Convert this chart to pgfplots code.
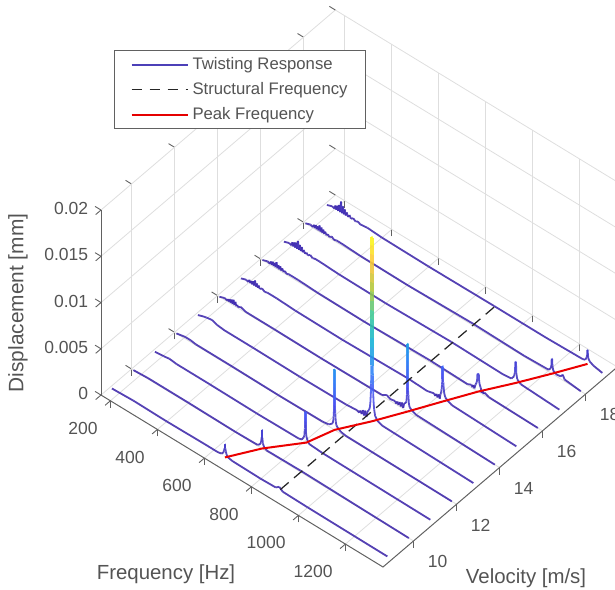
\documentclass[border=0pt]{standalone}
\usepackage{fontspec}
\setmainfont{Liberation Sans}
\usepackage{pgfplots}
\pgfplotsset{compat=1.18}
\definecolor{txt}{gray}{0.33}
\definecolor{axc}{gray}{0.38}
\definecolor{twistc}{rgb}{0.30,0.25,0.72}
\newcommand{\fs}{\fontsize{17.5}{20}\selectfont}
\newcommand{\fl}{\fontsize{16.7}{19}\selectfont}
\newcommand{\fa}{\fontsize{20.4}{23}\selectfont}
\pgfplotsset{resp/.style={mesh,point meta=z,line width=1.8pt,forget plot,opacity=0.88}}
\begin{document}
\begin{tikzpicture}[x=1pt,y=1pt]
\path[use as bounding box] (0,0) rectangle (615,589);
\begin{axis}[
  at={(101pt,22pt)},anchor=south west,
  x={(0.235pt,-0.1433pt)},y={(21.5pt,18.35pt)},z={(0pt,9250pt)},
  xmin=160,xmax=1360,ymin=8.58,ymax=19.48,zmin=0,zmax=0.02,
  clip=false,
  axis line style={draw=none},
  grid=major,
  grid style={draw=black!13,line width=0.8pt},
  xtick={200,400,600,800,1000,1200},
  xticklabels={200,400,600,800,1000,1200},
  ytick={10,12,14,16,18},
  yticklabels={10,12,14,16,18},
  ztick={0,0.005,0.01,0.015,0.02},
  zticklabels={0,0.005,0.01,0.015,0.02},
  scaled z ticks=false,
  tick align=outside,
  tick pos=left,
  major tick length=7pt,
  tick style={draw=axc,line width=0.9pt},
  tick label style={font=\fs,text=txt},
  xticklabel style={anchor=east,xshift=-4pt,yshift=-23pt},
  yticklabel style={anchor=center,xshift=18pt,yshift=-17pt},
  zticklabel style={anchor=east,xshift=-4pt,yshift=6pt},
  colormap={parula}{rgb=(0.2422,0.1504,0.6603) rgb=(0.2810,0.3228,0.9579) rgb=(0.1786,0.5289,0.9682) rgb=(0.0689,0.6948,0.8394) rgb=(0.2161,0.7843,0.5923) rgb=(0.6720,0.7793,0.2227) rgb=(0.9970,0.7659,0.2199) rgb=(0.9769,0.9839,0.0805)},
  point meta min=0,point meta max=0.0199,
  legend style={at={(0.0252,0.928)},anchor=north west,draw=axc,line width=1pt,
    font=\fl,text=txt,inner xsep=16pt,inner ysep=5pt,row sep=7pt,fill=white,
    cells={anchor=west},nodes={text height=12pt,text depth=2pt}},
  legend image code/.code={\path (58pt,0pt);\draw[#1] (0pt,0pt)--(56pt,0pt);},
  legend cell align=left,
]
\addlegendimage{draw=twistc,solid,line width=1.8pt}
\addlegendentry{Twisting Response}
\addlegendimage{draw=black!85,line width=1.2pt,dash pattern=on 10pt off 8pt}
\addlegendentry{Structural Frequency}
\addlegendimage{draw=red!90!black,line width=2pt}
\addlegendentry{Peak Frequency}

\draw[draw=axc,line width=1pt] (axis cs:160,8.58,0)--(axis cs:1360,8.58,0)--(axis cs:1360,19.48,0);
\draw[draw=axc,line width=1pt] (axis cs:160,8.58,0)--(axis cs:160,8.58,0.02);

% V=19
\addplot3[resp] coordinates {(168,19,0)(190,19,0.0002)(200,19,0.0001)(204,19,0.0005)(208,19,0.0001)(212,19,0.0006)(216,19,0.0001)(220,19,0.0008)(224,19,0.0001)(228,19,0.0013)(232,19,0.0001)(236,19,0.0009)(240,19,0.0001)(244,19,0.0007)(248,19,0.0001)(252,19,0.0005)(258,19,0.0001)(264,19,0.0004)(270,19,0.0001)(280,19,0.0003)(290,19,0.0001)(300,19,0.00025)(310,19,0.0001)(340,19,0.0002)(400,19,0.0001)(600,19,0.00005)(880,19,0.0001)(1100,19,0.0001)(1257,19,0.0002)(1267,19,0.0003)(1273,19,0.0006)(1275.5,19,0.0010)(1276,19,0.0015)(1278,19,0.0015)(1278.5,19,0.0010)(1281,19,0.0006)(1287,19,0.0004)(1302,19,0.0002)(1340,19,0)};
% V=18
\addplot3[resp] coordinates {(168,18,0)(190,18,0.0002)(200,18,0.0001)(204,18,0.0004)(208,18,0.0001)(212,18,0.0005)(216,18,0.0001)(220,18,0.0005)(224,18,0.0001)(228,18,0.0007)(232,18,0.0001)(236,18,0.0006)(240,18,0.0001)(244,18,0.0005)(248,18,0.0001)(252,18,0.0004)(258,18,0.0001)(264,18,0.0003)(270,18,0.0001)(280,18,0.0003)(290,18,0.0001)(300,18,0.0002)(320,18,0.0002)(400,18,0.0001)(600,18,0.00005)(880,18,0.0002)(1100,18,0.0001)(1202,18,0.0002)(1212,18,0.0005)(1215,18,0.0009)(1216,18,0.0016)(1218,18,0.0016)(1219,18,0.0009)(1223,18,0.0004)(1237,18,0.0002)(1255,18,0.0003)(1263,18,0.0006)(1271,18,0.0002)(1340,18,0)};
% V=17
\addplot3[resp] coordinates {(168,17,0)(190,17,0.0002)(200,17,0.0001)(204,17,0.0005)(208,17,0.0001)(212,17,0.0006)(216,17,0.0001)(220,17,0.0007)(224,17,0.0001)(228,17,0.0010)(232,17,0.0001)(236,17,0.0007)(240,17,0.0001)(244,17,0.0006)(248,17,0.0001)(252,17,0.0004)(258,17,0.0001)(264,17,0.0003)(270,17,0.0001)(280,17,0.0003)(290,17,0.0001)(300,17,0.0002)(320,17,0.0002)(400,17,0.0001)(600,17,0.00005)(880,17,0.0002)(1100,17,0.0001)(1136,17,0.0002)(1147,17,0.0006)(1151,17,0.0011)(1153,17,0.0023)(1155.5,17,0.0023)(1157,17,0.0011)(1161,17,0.0005)(1176,17,0.0002)(1340,17,0)};
% V=16
\addplot3[resp] coordinates {(168,16,0)(190,16,0.0002)(200,16,0.0001)(204,16,0.0004)(208,16,0.0001)(212,16,0.0005)(216,16,0.0001)(220,16,0.0005)(224,16,0.0001)(228,16,0.0007)(232,16,0.0001)(236,16,0.0005)(240,16,0.0001)(244,16,0.0005)(248,16,0.0001)(252,16,0.0004)(258,16,0.0001)(264,16,0.0003)(270,16,0.0001)(280,16,0.0002)(320,16,0.0002)(400,16,0.0001)(600,16,0.00005)(880,16,0.0002)(1040,16,0.0001)(1058,16,0.0003)(1062,16,0.0001)(1066,16,0.0004)(1070,16,0.0001)(1075,16,0.0006)(1080,16,0.0009)(1082,16,0.0013)(1083,16,0.0019)(1089,16,0.0019)(1090,16,0.0013)(1092,16,0.0009)(1097,16,0.0006)(1101,16,0.0001)(1105,16,0.0004)(1109,16,0.0001)(1113,16,0.0003)(1132,16,0.0001)(1340,16,0)};
% V=15
\addplot3[resp] coordinates {(168,15,0)(190,15,0.0002)(200,15,0.0001)(204,15,0.0004)(208,15,0.0001)(212,15,0.0004)(216,15,0.0001)(220,15,0.0005)(224,15,0.0001)(228,15,0.0007)(232,15,0.0001)(236,15,0.0005)(240,15,0.0001)(244,15,0.0004)(248,15,0.0001)(258,15,0.0003)(270,15,0.0001)(280,15,0.0002)(320,15,0.0002)(400,15,0.0001)(600,15,0.00005)(880,15,0.0002)(960,15,0.0001)(990,15,0.0003)(995,15,0.0001)(1000,15,0.0004)(1005,15,0.0001)(1010,15,0.0005)(1014,15,0.0001)(1017,15,0.0006)(1020,15,0.0009)(1022,15,0.0012)(1023,15,0.0015)(1024,15,0.0018)(1024.5,15,0.0021)(1025,15,0.0024)(1025,15,0.0027)(1025,15,0.003)(1025,15,0.0033)(1025,15,0.0036)(1025,15,0.0038)(1029.5,15,0.0038)(1029.5,15,0.0036)(1029.5,15,0.0033)(1029.5,15,0.003)(1029.5,15,0.0027)(1029.5,15,0.0024)(1029.5,15,0.0021)(1030,15,0.0018)(1031,15,0.0015)(1032,15,0.0012)(1034,15,0.0009)(1038,15,0.0006)(1048,15,0.0004)(1066,15,0.0002)(1340,15,0)};
% V=14
\addplot3[resp] coordinates {(168,14,0)(190,14,0.0002)(200,14,0.0001)(204,14,0.0003)(208,14,0.0001)(212,14,0.0004)(216,14,0.0001)(220,14,0.0005)(224,14,0.0001)(228,14,0.0006)(232,14,0.0001)(236,14,0.0005)(240,14,0.0001)(244,14,0.0003)(248,14,0.0001)(258,14,0.0003)(280,14,0.0001)(400,14,0.0001)(600,14,0.00005)(860,14,0.0001)(880,14,0.0004)(895,14,0.0002)(915,14,0.0003)(920,14,0.0001)(925,14,0.0004)(930,14,0.0001)(935,14,0.0005)(940,14,0.0001)(945,14,0.0006)(950,14,0.0001)(955,14,0.0007)(961,14,0.0008)(964,14,0.0010)(965,14,0.0014)(966,14,0.0018)(966.5,14,0.0022)(966.5,14,0.0026)(966.5,14,0.003)(966.5,14,0.0034)(966.5,14,0.0038)(966.5,14,0.0042)(966.5,14,0.0046)(966.5,14,0.005)(966.5,14,0.0054)(966.5,14,0.0058)(966.5,14,0.0062)(966.5,14,0.0066)(966.5,14,0.0070)(966.5,14,0.0073)(971.5,14,0.0073)(971.5,14,0.0070)(971.5,14,0.0066)(971.5,14,0.0062)(971.5,14,0.0058)(971.5,14,0.0054)(971.5,14,0.005)(971.5,14,0.0046)(971.5,14,0.0042)(971.5,14,0.0038)(971.5,14,0.0034)(971.5,14,0.003)(971.5,14,0.0026)(971.5,14,0.0022)(972,14,0.0018)(973,14,0.0014)(974,14,0.0010)(977,14,0.0006)(987,14,0.0004)(1005,14,0.0002)(1340,14,0)};
% V=13
\addplot3[resp] coordinates {(168,13,0)(190,13,0.0002)(205,13,0.0003)(228,13,0.0004)(250,13,0.0002)(280,13,0.0001)(400,13,0.0001)(600,13,0.00005)(800,13,0.0001)(845,13,0.0002)(855,13,0.0001)(860,13,0.0004)(865,13,0.0001)(870,13,0.0006)(875,13,0.0001)(880,13,0.0007)(885,13,0.0001)(890,13,0.0008)(896,13,0.0010)(900,13,0.0014)(902,13,0.002)(904,13,0.003)(905,13,0.004)(905.5,13,0.005)(906,13,0.006)(906,13,0.007)(906,13,0.008)(906,13,0.009)(906,13,0.01)(906,13,0.011)(906,13,0.012)(906,13,0.013)(906,13,0.014)(906,13,0.015)(906,13,0.016)(906,13,0.017)(906,13,0.018)(906,13,0.019)(906,13,0.0199)(912,13,0.0199)(912,13,0.019)(912,13,0.018)(912,13,0.017)(912,13,0.016)(912,13,0.015)(912,13,0.014)(912,13,0.013)(912,13,0.012)(912,13,0.011)(912,13,0.01)(912,13,0.009)(912,13,0.008)(912,13,0.007)(912,13,0.006)(912.5,13,0.005)(913,13,0.004)(914,13,0.003)(916,13,0.002)(918,13,0.0014)(922,13,0.0008)(932,13,0.0004)(952,13,0.0002)(1340,13,0)};
% V=12
\addplot3[resp] coordinates {(168,12,0)(205,12,0.0002)(228,12,0.0002)(250,12,0.0001)(400,12,0.0001)(600,12,0.00005)(790,12,0.0001)(815,12,0.0002)(826,12,0.0004)(833,12,0.0006)(836,12,0.0010)(837,12,0.0014)(838,12,0.0018)(838.5,12,0.0022)(838.5,12,0.0026)(838.5,12,0.003)(838.5,12,0.0034)(838.5,12,0.0038)(838.5,12,0.0042)(838.5,12,0.0046)(838.5,12,0.005)(838.5,12,0.0054)(838.5,12,0.0058)(838.5,12,0.0062)(838.5,12,0.0065)(843.5,12,0.0065)(843.5,12,0.0062)(843.5,12,0.0058)(843.5,12,0.0054)(843.5,12,0.005)(843.5,12,0.0046)(843.5,12,0.0042)(843.5,12,0.0038)(843.5,12,0.0034)(843.5,12,0.003)(843.5,12,0.0026)(843.5,12,0.0022)(844,12,0.0018)(845,12,0.0014)(846,12,0.0010)(849,12,0.0006)(856,12,0.0004)(868,12,0.0002)(888,12,0.0001)(1340,12,0)};
% V=11
\addplot3[resp] coordinates {(168,11,0)(205,11,0.0001)(230,11,0.0002)(260,11,0.0001)(400,11,0.0001)(600,11,0.00005)(780,11,0.0001)(793,11,0.0002)(800,11,0.0005)(804,11,0.0008)(805,11,0.0012)(806,11,0.0016)(806,11,0.002)(806,11,0.0024)(806,11,0.0028)(806,11,0.0032)(806,11,0.0034)(810.5,11,0.0034)(810.5,11,0.0032)(810.5,11,0.0028)(810.5,11,0.0024)(810.5,11,0.002)(810.5,11,0.0016)(811,11,0.0012)(813,11,0.0008)(817,11,0.0005)(824,11,0.0002)(880,11,0.0001)(1340,11,0)};
% V=10
\addplot3[resp] coordinates {(168,10,0)(230,10,0.0001)(400,10,0.0001)(600,10,0.00005)(695,10,0.0001)(706,10,0.0003)(711,10,0.0006)(714,10,0.0012)(714,10,0.002)(716.5,10,0.002)(716.5,10,0.0012)(719,10,0.0006)(724,10,0.0003)(735,10,0.0001)(880,10,0.00015)(1340,10,0)};
% V=9
\addplot3[resp] coordinates {(168,9,0)(260,9,0.0001)(400,9,0.00005)(560,9,0.0001)(620,9,0.0001)(635,9,0.0002)(642,9,0.0004)(645,9,0.0007)(648,9,0.001)(648,9,0.0014)(650.5,9,0.0014)(650.5,9,0.001)(653,9,0.0007)(656,9,0.0004)(663,9,0.0002)(680,9,0.0001)(800,9,0.00005)(865,9,0.0001)(880,9,0.0004)(895,9,0.0001)(1000,9,0.00005)(1340,9,0)};

\addplot3[forget plot,no markers,color=black!85,line width=1.25pt,dash pattern=on 11pt off 7pt] coordinates {(880,9.05,0)(880,19.1,0)};
\addplot3[forget plot,no markers,color=red!92!black,line width=2pt] coordinates {(649,9,0)(715,10,0)(808,11.05,0)(841,12,0)(909,13,0)(969,14,0)(1027,15,0)(1086,16,0)(1154,17,0)(1217,18,0)(1277,19,0)};
\end{axis}
\node[font=\fa,text=txt] at (166,15) {Frequency [Hz]};
\node[font=\fa,text=txt] at (526,11) {Velocity [m/s]};
\node[font=\fontsize{20.9}{23}\selectfont,text=txt,rotate=90] at (18,286) {Displacement [mm]};
\end{tikzpicture}
\end{document}
